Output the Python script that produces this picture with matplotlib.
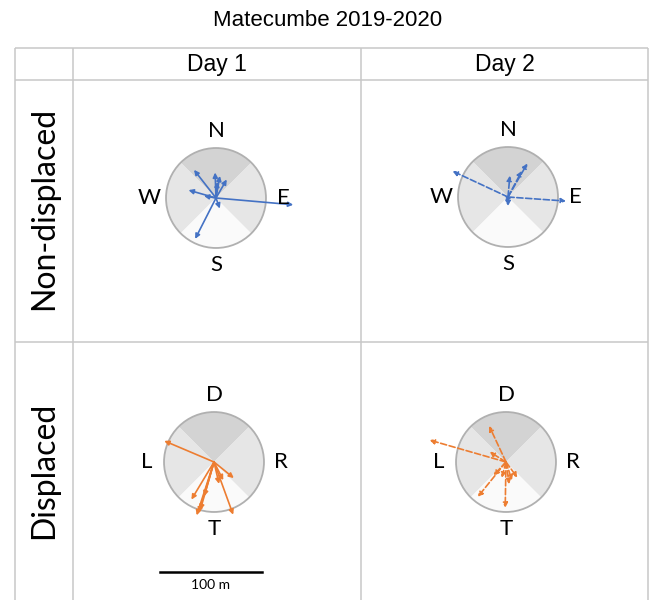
import numpy as np
import matplotlib.pyplot as plt
from matplotlib.patches import Wedge, Circle

# bearings (deg clockwise from top) and straight-line distances (m) of each track
nd_day1_bearing = [95, 207, 322, 286, 280, 358, 10, 30, 160, 5]
nd_day1_dist = [76, 45, 35, 28, 12, 25, 22, 21, 11, 16]
nd_day2_bearing = [295, 94, 30, 28, 5, 180, 200]
nd_day2_dist = [60, 57, 38, 29, 21, 9, 6]
d_day1_bearing = [293, 129, 160, 198, 211, 196, 196, 167, 153, 197]
d_day1_dist = [53, 25, 55, 55, 43, 35, 49, 22, 20, 52]
d_day2_bearing = [286, 335, 302, 219, 181, 144, 162, 172, 195, 223]
d_day2_dist = [78, 39, 19, 44, 45, 19, 19, 22, 16, 18]

title = "Matecumbe 2019-2020"
col_labels = ["Day 1", "Day 2"]
row_labels = ["Non-displaced", "Displaced"]
nd_dirs = ["N", "E", "S", "W"]
d_dirs = ["D", "R", "T", "L"]

blue = "#4472C4"
orange = "#ED7D31"
grid_col = "#c8c8c8"

W, H = 651, 600
px_per_m = 1.02
R = 49  # radius of the compass circle, m

fig = plt.figure(figsize=(W / 100, H / 100), dpi=100)
bg = fig.add_axes([0, 0, 1, 1])
bg.set_xlim(0, W)
bg.set_ylim(H, 0)
bg.axis("off")

# table grid
xs = [15, 73, 361, 648]
bg.hlines([48, 80, 342], xs[0], xs[-1], color=grid_col, lw=1.1)
bg.vlines(xs, 48, H, color=grid_col, lw=1.1)

head_font = ["Liberation Sans Narrow", "Liberation Sans"]
bg.text(328, 20, title, ha="center", va="center", fontsize=16,
        family=head_font)
for i, lab in enumerate(col_labels):
    bg.text((xs[i + 1] + xs[i + 2]) / 2, 64, lab, ha="center", va="center",
            fontsize=16.5, family=head_font)
row_mid = [(80 + 342) / 2 - 3, 470]
for lab, y in zip(row_labels, row_mid):
    bg.text(44, y, lab, ha="center", va="center", rotation=90, fontsize=23,
            family="Lato")


def compass(cx, cy, bearings, dists, color, ls, dirs):
    S = 260
    ax = fig.add_axes([(cx - S / 2) / W, 1 - (cy + S / 2) / H, S / W, S / H])
    lim = S / 2 / px_per_m
    ax.set_xlim(-lim, lim)
    ax.set_ylim(-lim, lim)
    ax.axis("off")

    # shaded sectors: top darker, sides light, bottom white
    ax.add_patch(Wedge((0, 0), R, 45, 135, color="#d3d3d3", lw=0))
    ax.add_patch(Wedge((0, 0), R, 135, 225, color="#e6e6e6", lw=0))
    ax.add_patch(Wedge((0, 0), R, 225, 315, color="#fafafa", lw=0))
    ax.add_patch(Wedge((0, 0), R, -45, 45, color="#e6e6e6", lw=0))
    ax.add_patch(Circle((0, 0), R, fill=False, ec="#b0b0b0", lw=1.3))

    b = np.radians(bearings)
    d = np.asarray(dists, dtype=float)
    for x, y in zip(d * np.sin(b), d * np.cos(b)):
        ax.annotate("", xy=(x, y), xytext=(0, 0),
                    arrowprops=dict(arrowstyle="-|>", color=color, lw=1.2,
                                    ls=ls, mutation_scale=7,
                                    shrinkA=0, shrinkB=0))

    off = 66
    for lab, ang in zip(dirs, [0, 90, 180, 270]):
        a = np.radians(ang)
        ax.text(off * np.sin(a), off * np.cos(a), lab, ha="center",
                va="center", fontsize=16, family="Lato")
    return ax


compass(216, 198, nd_day1_bearing, nd_day1_dist, blue, "-", nd_dirs)
compass(508, 197, nd_day2_bearing, nd_day2_dist, blue, "--", nd_dirs)
ax_d1 = compass(214, 462, d_day1_bearing, d_day1_dist, orange, "-", d_dirs)
compass(506, 462, d_day2_bearing, d_day2_dist, orange, "--", d_dirs)

# 100 m scale bar
bar_len = 100
ax_d1.plot([-53, -53 + bar_len], [-108, -108], color="black", lw=1.8,
           clip_on=False)
ax_d1.text(-53 + bar_len / 2, -121, "100 m", ha="center", va="center",
           fontsize=10, family="Lato")

fig.savefig("out.png", dpi=100)
